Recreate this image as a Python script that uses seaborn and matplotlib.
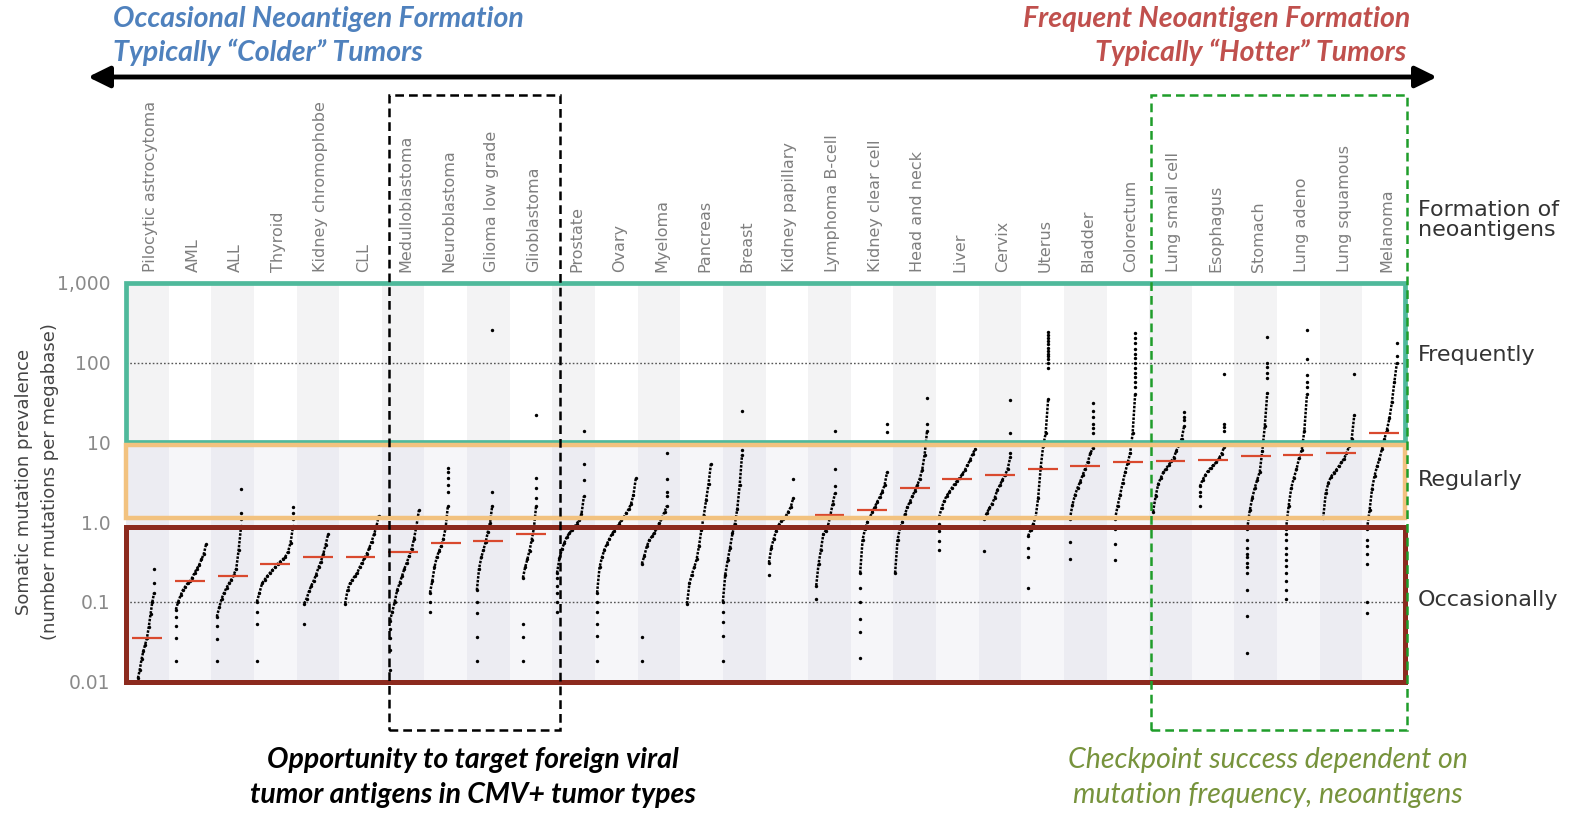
import numpy as np
import pandas as pd
import matplotlib
matplotlib.use("Agg")
import matplotlib.pyplot as plt
import matplotlib.transforms as mtransforms
from matplotlib.patches import Rectangle
from matplotlib.ticker import NullLocator
import seaborn as sns

# ---------------- data ----------------
categories = [
    "Pilocytic astrocytoma", "AML", "ALL", "Thyroid", "Kidney chromophobe", "CLL",
    "Medulloblastoma", "Neuroblastoma", "Glioma low grade", "Glioblastoma",
    "Prostate", "Ovary", "Myeloma", "Pancreas", "Breast", "Kidney papillary",
    "Lymphoma B-cell", "Kidney clear cell", "Head and neck", "Liver", "Cervix",
    "Uterus", "Bladder", "Colorectum", "Lung small cell", "Esophagus", "Stomach",
    "Lung adeno", "Lung squamous", "Melanoma",
]

# sorted sample values (mutations per megabase) read at evenly spaced ranks
curve_values = [
    [0.011, 0.014, 0.019, 0.024, 0.029, 0.035, 0.048, 0.07, 0.1, 0.13],
    [0.08, 0.1, 0.12, 0.14, 0.155, 0.17, 0.18, 0.2, 0.23, 0.26, 0.29, 0.34, 0.4, 0.53],
    [0.065, 0.085, 0.11, 0.13, 0.15, 0.17, 0.19, 0.22, 0.26, 0.45, 0.9],
    [0.1, 0.13, 0.17, 0.19, 0.21, 0.23, 0.25, 0.27, 0.3, 0.32, 0.34, 0.37, 0.42, 0.55, 0.9],
    [0.095, 0.11, 0.135, 0.16, 0.185, 0.22, 0.27, 0.32, 0.4, 0.52, 0.7],
    [0.095, 0.14, 0.17, 0.19, 0.21, 0.23, 0.27, 0.31, 0.35, 0.4, 0.47, 0.57, 0.7, 0.88, 1.2],
    [0.058, 0.075, 0.1, 0.14, 0.17, 0.21, 0.26, 0.31, 0.38, 0.46, 0.62, 0.9, 1.4],
    [0.13, 0.18, 0.27, 0.36, 0.43, 0.5, 0.62, 0.85, 1.6],
    [0.14, 0.26, 0.36, 0.45, 0.56, 0.75, 0.98, 1.6],
    [0.2, 0.27, 0.34, 0.44, 0.6, 0.85, 1.6],
    [0.23, 0.35, 0.46, 0.55, 0.65, 0.72, 0.79, 0.86, 0.95, 1.05, 1.25, 2.1],
    [0.13, 0.27, 0.36, 0.45, 0.53, 0.61, 0.7, 0.78, 0.86, 0.95, 1.05, 1.15, 1.3, 1.45, 1.7, 2.2, 3.6],
    [0.3, 0.38, 0.5, 0.6, 0.66, 0.74, 0.85, 0.98, 1.12, 1.35, 1.6],
    [0.095, 0.17, 0.22, 0.27, 0.34, 0.5, 0.8, 1.2, 1.9, 3.0, 5.4],
    [0.1, 0.22, 0.33, 0.48, 0.72, 0.95, 1.45, 2.9, 7.0],
    [0.31, 0.48, 0.62, 0.78, 0.92, 1.02, 1.1, 1.2, 1.35, 1.55, 2.0],
    [0.16, 0.3, 0.45, 0.7, 0.78, 0.9, 1.2, 1.7, 2.3],
    [0.23, 0.6, 0.82, 1.0, 1.15, 1.35, 1.55, 1.8, 2.05, 2.4, 2.9, 4.2],
    [0.23, 0.6, 0.85, 1.0, 1.25, 1.55, 1.8, 2.1, 2.45, 2.9, 3.5, 4.5, 7.0, 14],
    [1.15, 1.5, 1.85, 2.15, 2.4, 2.7, 3.0, 3.3, 3.6, 4.0, 4.5, 5.2, 6.0, 7.2, 8.3],
    [1.1, 1.3, 1.5, 1.7, 2.0, 2.5, 2.9, 3.4, 3.9, 4.6, 6.5],
    [0.67, 0.8, 0.95, 1.15, 2.0, 4.8, 9.0, 13, 35],
    [1.1, 1.65, 2.2, 2.7, 3.2, 3.9, 4.7, 5.7, 7.3, 8.5],
    [1.1, 1.6, 2.2, 3.1, 4.2, 5.5, 7.3, 13, 40],
    [1.35, 2.1, 3.0, 3.6, 4.2, 4.7, 5.2, 5.8, 6.4, 7.9, 9.2, 11, 16],
    [2.8, 3.4, 3.9, 4.4, 4.8, 5.2, 5.6, 6.3, 7.2, 8.8],
    [0.83, 1.4, 2.0, 2.7, 3.4, 4.3, 7.8, 16, 42],
    [0.83, 1.6, 2.7, 3.6, 4.6, 6.4, 8.0, 14, 40],
    [1.12, 2.3, 3.1, 3.7, 4.1, 4.5, 5.0, 5.6, 6.2, 7.3, 8.9, 11, 22],
    [0.83, 1.4, 2.6, 3.8, 5.0, 6.2, 8.3, 11, 14.5, 20, 32, 58, 100],
]

# sparse low / high samples (stacked at the ends of each curve)
low_outliers = [
    [], [0.018, 0.035, 0.05, 0.065], [0.018, 0.034, 0.05], [0.018, 0.053, 0.075],
    [0.053], [], [0.014, 0.025, 0.035, 0.045], [0.075, 0.1], [0.018, 0.036, 0.073, 0.1],
    [0.018, 0.036, 0.053], [0.075, 0.1, 0.13, 0.16, 0.2], [0.018, 0.037, 0.053, 0.075, 0.1],
    [0.018, 0.036], [], [0.018, 0.037, 0.055, 0.075], [0.22], [0.11],
    [0.02, 0.042, 0.06, 0.1, 0.15], [], [0.45, 0.58, 0.77, 0.95], [0.43],
    [0.15, 0.36, 0.48], [0.34, 0.56], [0.33, 0.53, 0.83], [], [1.6, 2.1, 2.4],
    [0.023, 0.067, 0.14, 0.23, 0.27, 0.31, 0.36, 0.4, 0.48, 0.6],
    [0.11, 0.14, 0.18, 0.23, 0.28, 0.33, 0.4, 0.48, 0.6, 0.7], [],
    [0.072, 0.1, 0.3, 0.4, 0.5, 0.6],
]
high_outliers = [
    [0.17, 0.26], [], [1.1, 1.3, 2.6], [1.1, 1.3, 1.55], [], [], [],
    [2.4, 2.9, 3.6, 4.2, 4.8], [2.4, 260], [2.0, 2.7, 3.6, 22], [3.4, 5.4, 14], [],
    [2.15, 2.4, 3.5, 7.3], [], [8.0, 25], [3.5], [2.8, 4.7, 14], [13.5, 17], [17, 36],
    [], [7.3, 13, 34],
    [85, 100, 110, 120, 130, 142, 155, 170, 185, 205, 225, 245],
    [13, 15, 17, 21, 25, 31],
    [50, 58, 66, 75, 85, 100, 115, 130, 150, 175, 205, 235],
    [19, 21, 24], [14, 15.5, 17, 72], [64, 75, 88, 100, 210], [50, 58, 70, 110, 255],
    [72], [120, 176],
]

medians = [0.035, 0.18, 0.21, 0.30, 0.36, 0.37, 0.42, 0.55, 0.58, 0.70,
           np.nan, np.nan, np.nan, np.nan, np.nan,
           1.12, 1.22, 1.4, 2.7, 3.5, 3.9, 4.6, 5.1, 5.7, 5.9, 6.1, 6.8, 7.0, 7.3, 13.2]

y_ticks = [0.01, 0.1, 1, 10, 100, 1000]
y_tick_labels = ["0.01", "0.1", "1.0", "10", "100", "1,000"]
y_label = "Somatic mutation prevalence\n(number mutations per megabase)"
band_labels = ["Frequently", "Regularly", "Occasionally"]

# ---------------- layout (not data) ----------------
curve_span = [
    (-0.22, 0.16), (-0.33, 0.38), (-0.37, 0.20), (-0.43, 0.42), (-0.32, 0.24),
    (-0.36, 0.43), (-0.31, 0.37), (-0.37, 0.05), (-0.27, 0.09), (-0.19, 0.12),
    (-0.39, 0.24), (-0.45, 0.46), (-0.40, 0.19), (-0.34, 0.22), (-0.50, -0.05),
    (-0.42, 0.15), (-0.31, 0.13), (-0.28, 0.35), (-0.46, 0.29), (-0.43, 0.42),
    (-0.37, 0.24), (-0.34, 0.13), (-0.36, 0.18), (-0.30, 0.17), (-0.41, 0.32),
    (-0.31, 0.26), (-0.20, 0.27), (-0.29, 0.20), (-0.42, 0.31), (-0.39, 0.31),
]
W, H = 1573, 814


def fx(px):
    return px / W


def fy(py):
    return 1 - py / H


# ---------------- build tables ----------------
curve_rows, dot_rows = [], []
for i, vals in enumerate(curve_values):
    lo, hi = curve_span[i]
    xs = np.linspace(i + lo, i + hi, len(vals))
    for x, v in zip(xs, vals):
        curve_rows.append((i, x, v))
        dot_rows.append((i, x, v))
    for v in low_outliers[i]:
        dot_rows.append((i, i + lo, v))
    for v in high_outliers[i]:
        dot_rows.append((i, i + hi, v))
curve_df = pd.DataFrame(curve_rows, columns=["cat", "x", "value"])
dot_df = pd.DataFrame(dot_rows, columns=["cat", "x", "value"])

# ---------------- figure ----------------
sns.set_theme(style="white")
plt.rcParams["font.family"] = ["DejaVu Sans"]

fig = plt.figure(figsize=(W / 100, H / 100), dpi=100)
ax = fig.add_axes([fx(126), fy(681.5), fx(1405) - fx(126), fy(283) - fy(681.5)])
ax.set_yscale("log")

n = len(categories)
for i in range(n):
    if i % 2 == 0:
        ax.axvspan(i - 0.5, i + 0.5, color="#f3f3f4", lw=0, zorder=0)
        ax.axvspan(i - 0.5, i + 0.5, ymin=0, ymax=0.6, color="#ececf2", lw=0, zorder=0.1)
    else:
        ax.axvspan(i - 0.5, i + 0.5, ymin=0, ymax=0.6, color="#f6f6f9", lw=0, zorder=0.1)

for yv in (100, 0.1):
    ax.axhline(yv, color="#555555", lw=1.0, ls=(0, (1.2, 1.5)), zorder=1)

sns.lineplot(data=curve_df, x="x", y="value", units="cat", estimator=None, sort=False,
             color="black", lw=1.8, linestyle=(0, (1.0, 0.55)), ax=ax, legend=False, zorder=4)
sns.scatterplot(data=dot_df, x="x", y="value", color="black", s=6, linewidth=0,
                ax=ax, legend=False, zorder=5)

xs_med = np.array([i for i in range(n) if not np.isnan(medians[i])])
ys_med = np.array([medians[i] for i in xs_med])
ax.hlines(ys_med, xs_med - 0.35, xs_med + 0.35, color="#d9492e", lw=1.6, zorder=6)

ax.set_xlim(-0.5, n - 0.5)
ax.set_ylim(0.01, 1000)
ax.set_xlabel("")
ax.set_ylabel("")
for s in ax.spines.values():
    s.set_visible(False)

# boxes
box_kw = dict(fill=False, clip_on=False, zorder=7)
ax.add_patch(Rectangle((-0.5, 10), n, 990, ec="#4fb99b", lw=3.4, **box_kw))
ax.add_patch(Rectangle((-0.5, 1.12), n, 9.3 - 1.12, ec="#f2c27f", lw=3.2, **box_kw))
ax.add_patch(Rectangle((-0.5, 0.01), n, 0.87 - 0.01, ec="#8c2a1e", lw=3.6, **box_kw))

blend = mtransforms.blended_transform_factory(ax.transData, fig.transFigure)
ax.add_patch(Rectangle((5.67, fy(730)), 9.68 - 5.67, fy(95) - fy(730), transform=blend,
                       fill=False, ec="black", lw=1.8, ls=(0, (3.5, 2)), clip_on=False, zorder=8))
ax.add_patch(Rectangle((23.54, fy(730)), 29.55 - 23.54, fy(95) - fy(730), transform=blend,
                       fill=False, ec="#1f9d2a", lw=1.8, ls=(0, (3.5, 2)), clip_on=False, zorder=8))

# ticks
ax.set_xticks(range(n))
ax.set_xticklabels(categories, rotation=90, color="#7f7f7f", fontsize=11.5)
ax.xaxis.tick_top()
ax.tick_params(axis="x", length=0, pad=8)
shift = mtransforms.ScaledTranslation(3 / 100, 0, fig.dpi_scale_trans)
for lbl in ax.get_xticklabels():
    lbl.set_transform(lbl.get_transform() + shift)
ax.set_yticks(y_ticks)
ax.set_yticklabels(y_tick_labels)
ax.yaxis.set_minor_locator(NullLocator())
ax.tick_params(axis="y", length=0, pad=11, labelsize=13.5, labelcolor="#8a8a8a")

fig.text(fx(37), fy(482), y_label, rotation=90, ha="center", va="center",
         fontsize=13, color="#444444", linespacing=1.6)

# right side labels
fig.text(fx(1418), fy(220), "Formation of\nneoantigens", ha="left", va="center",
         fontsize=16, color="#333333", linespacing=1.0)
for lab, py in zip(band_labels, [355, 480, 600]):
    fig.text(fx(1418), fy(py), lab, ha="left", va="center", fontsize=16, color="#333333")

# top arrow & headings
ax.annotate("", xy=(fx(88), fy(77)), xytext=(fx(1437), fy(77)), xycoords="figure fraction",
            textcoords="figure fraction", annotation_clip=False,
            arrowprops=dict(arrowstyle="<|-|>,head_length=0.65,head_width=0.32",
                            mutation_scale=20, lw=3.5, color="black", shrinkA=0, shrinkB=0))
head_kw = dict(fontsize=20.5, fontweight="bold", fontstyle="italic", family=["Lato", "DejaVu Sans"])
fig.text(fx(113), fy(19), "Occasional Neoantigen Formation", ha="left", va="center",
         color="#4f81bd", **head_kw)
fig.text(fx(113), fy(52), "Typically \u201cColder\u201d Tumors", ha="left", va="center",
         color="#4f81bd", **head_kw)
fig.text(fx(1410), fy(19), "Frequent Neoantigen Formation", ha="right", va="center",
         color="#c0504d", **head_kw)
fig.text(fx(1406), fy(52), "Typically \u201cHotter\u201d Tumors", ha="right", va="center",
         color="#c0504d", **head_kw)

# bottom notes
fig.text(fx(473), fy(760), "Opportunity to target foreign viral", ha="center", va="center",
         color="black", **head_kw)
fig.text(fx(473), fy(795), "tumor antigens in CMV+ tumor types", ha="center", va="center",
         color="black", **head_kw)
note_kw = dict(fontsize=20.5, fontstyle="italic", family=["Lato", "DejaVu Sans"], color="#77933c")
fig.text(fx(1268), fy(760), "Checkpoint success dependent on", ha="center", va="center", **note_kw)
fig.text(fx(1268), fy(795), "mutation frequency, neoantigens", ha="center", va="center", **note_kw)

fig.savefig("out.png", dpi=100)
